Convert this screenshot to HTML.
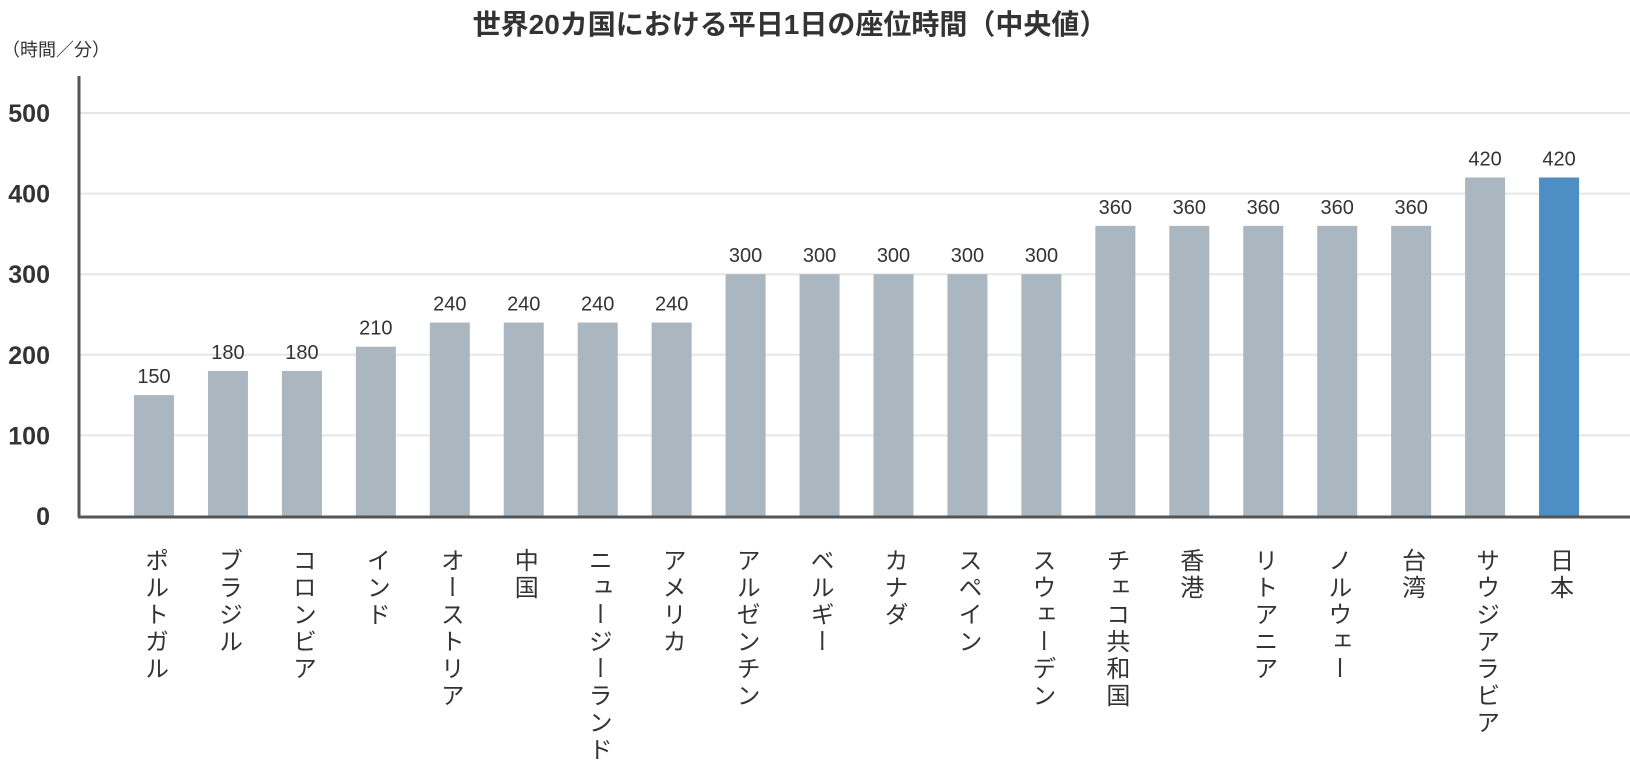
<!DOCTYPE html>
<html><head><meta charset="utf-8"><style>
body{margin:0;background:#fff;}
svg text{font-family:"Liberation Sans","Noto Sans CJK JP",sans-serif;}
</style></head><body>
<svg id="c" width="1630" height="770" xmlns="http://www.w3.org/2000/svg">
<text x="790" y="34" text-anchor="middle" font-size="28" font-weight="bold" fill="#333">世界20カ国における平日1日の座位時間（中央値）</text>
<text x="2" y="56" font-size="18" fill="#333">（時間／分）</text>
</svg>
<script>
const categories=["ポルトガル","ブラジル","コロンビア","インド","オーストリア","中国","ニュージーランド","アメリカ","アルゼンチン","ベルギー","カナダ","スペイン","スウェーデン","チェコ共和国","香港","リトアニア","ノルウェー","台湾","サウジアラビア","日本"];
const values=[150,180,180,210,240,240,240,240,300,300,300,300,300,360,360,360,360,360,420,420];
const yTicks=[0,100,200,300,400,500];
const svg=document.getElementById('c');
const NS="http://www.w3.org/2000/svg";
const y0=516,pxPer=0.806,x0=154,step=73.95,bw=40;
const y=v=>y0-v*pxPer;
const x=i=>x0+i*step;
function mk(t,a){const e=document.createElementNS(NS,t);for(const k in a)e.setAttribute(k,a[k]);svg.appendChild(e);return e;}
yTicks.forEach(t=>{
  if(t>0){const g=mk('line',{x1:80,x2:1630,y1:y(t),y2:y(t),stroke:'#e6e6e6','stroke-width':2});
  
  }
  const l=mk('text',{x:50,y:y(t)+9,'text-anchor':'end','font-size':25,'font-weight':'bold',fill:'#333'});
  l.textContent=t;
  
  
});
values.forEach((v,i)=>{
  const r=mk('rect',{x:x(i)-bw/2,y:y(v),width:bw,height:y0-y(v),fill:i===values.length-1?'#4d8fc4':'#aab6c0'});
  
  
  const t=mk('text',{x:x(i),y:y(v)-12,'text-anchor':'middle','font-size':20,fill:'#333'});
  t.textContent=v;
  
  
  const c=mk('text',{x:x(i),y:548,'font-size':24,fill:'#333'});
  c.setAttribute('style','writing-mode:vertical-rl;text-orientation:upright;letter-spacing:3px;');
  c.textContent=categories[i];
  
  
});
const ax=mk('line',{x1:79,x2:79,y1:76,y2:y0+1,stroke:'#555','stroke-width':3});


const bx=mk('line',{x1:78,x2:1630,y1:y0+1,y2:y0+1,stroke:'#555','stroke-width':3});


</script>
</body></html>
